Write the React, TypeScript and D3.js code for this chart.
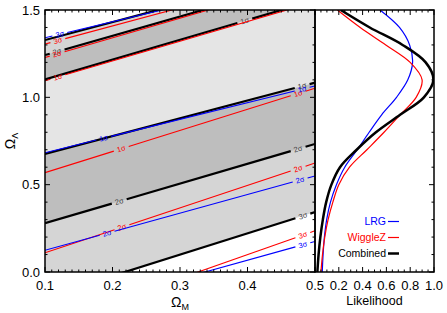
import * as d3 from 'd3';

// Ω_Λ values of each contour at Ω_M = 0.1 and Ω_M = 0.5 (straight, degenerate contours)
const omegaMEnds = [0.1, 0.5];
const sigmaNames = ['1σ', '2σ', '3σ'];

const combinedLower = [[0.676, 1.084], [0.279, 0.733], [-0.144, 0.343]];
const combinedUpper = [[1.103, 1.556], [1.242, 1.683], [1.328, 1.739]];
const wigglezLower = [[0.569, 1.052], [0.11, 0.624], [-0.309, 0.236]];
const wigglezUpper = [[1.095, 1.547], [1.228, 1.678], [1.305, 1.72]];
const lrgLower = [[0.683, 1.065], [0.124, 0.55], [-0.255, 0.175]];
const lrgUpper = [[1.341, 1.709]];
const lrgUpperNames = ['3σ'];

// where the inline contour labels sit, in Ω_M
const combinedLowerLabelAt = [[0.481], [0.21, 0.475], [0.482]];
const combinedUpperLabelAt = [[0.396], [0.118], []];
const wigglezLowerLabelAt = [[0.213, 0.475], [0.214, 0.475], [0.482]];
const wigglezUpperLabelAt = [[0.119], [0.118], [0.119]];
const lrgLowerLabelAt = [[0.187, 0.481], [0.192, 0.478], [0.482]];
const lrgUpperLabelAt = [[0.122]];

// marginal likelihood vs Ω_Λ
const omegaLGrid = [0, 0.1, 0.2, 0.3, 0.4, 0.5, 0.6, 0.7, 0.8, 0.9, 1.0, 1.1, 1.2, 1.3, 1.4, 1.5];
const likeLRG = [0.061, 0.068, 0.079, 0.098, 0.13, 0.18, 0.25, 0.355, 0.455, 0.56, 0.685, 0.78, 0.82, 0.795, 0.71, 0.546];
const likeWiggleZ = [0.05, 0.063, 0.082, 0.11, 0.15, 0.2, 0.29, 0.436, 0.58, 0.715, 0.85, 0.9, 0.8, 0.595, 0.38, 0.188];
const likeCombined = [0.02, 0.03, 0.045, 0.066, 0.094, 0.138, 0.21, 0.35, 0.512, 0.715, 0.915, 0.995, 0.93, 0.736, 0.46, 0.216];

const xTickValues = [0.1, 0.2, 0.3, 0.4, 0.5];
const yTickValues = [0, 0.5, 1.0, 1.5];
const likeTickValues = [0.2, 0.4, 0.6, 0.8, 1.0];
const legendNames = ['LRG', 'WiggleZ', 'Combined'];

const FONT = '"Liberation Sans", Arial, Helvetica, sans-serif';
const BLUE = '#0000ff';
const RED = '#ff0000';
const BANDS = ['#e5e5e5', '#bebebe', '#d5d5d5'];

const PANEL = { left: 45, right: 315, top: 10, bottom: 272 };
const SIDE = { left: 315, right: 434 };

export default function App() {
  const x = d3.scaleLinear().domain([0.1, 0.5]).range([PANEL.left, PANEL.right]);
  const y = d3.scaleLinear().domain([0, 1.5]).range([PANEL.bottom, PANEL.top]);
  const lx = d3.scaleLinear().domain([0, 1]).range([SIDE.left, SIDE.right]);

  const bandArea = d3
    .area<number>()
    .x((m) => x(m));

  // a contour line, broken around its labels
  const contour = (
    ends: number[],
    labelAt: number[],
    name: string,
    color: string,
    width: number,
    labelColor: string,
    key: string,
  ) => {
    const at = (m: number) => ends[0] + ((ends[1] - ends[0]) * (m - omegaMEnds[0])) / (omegaMEnds[1] - omegaMEnds[0]);
    const gap = 0.011;
    const cuts = [omegaMEnds[0]];
    labelAt.forEach((m) => cuts.push(m - gap, m + gap));
    cuts.push(omegaMEnds[1]);
    const segs = [];
    for (let i = 0; i < cuts.length; i += 2) {
      segs.push(
        <line
          key={`${key}-s${i}`}
          x1={x(cuts[i])}
          y1={y(at(cuts[i]))}
          x2={x(cuts[i + 1])}
          y2={y(at(cuts[i + 1]))}
          stroke={color}
          strokeWidth={width}
        />,
      );
    }
    const angle =
      (Math.atan2(y(ends[1]) - y(ends[0]), x(omegaMEnds[1]) - x(omegaMEnds[0])) * 180) / Math.PI;
    labelAt.forEach((m, i) => {
      segs.push(
        <text
          key={`${key}-t${i}`}
          transform={`translate(${x(m)},${y(at(m))}) rotate(${angle})`}
          dy="2.5"
          textAnchor="middle"
          fontSize="7.5"
          fontFamily={FONT}
          fill={labelColor}
        >
          {name}
        </text>,
      );
    });
    return <g key={key}>{segs}</g>;
  };

  const likeLine = (vals: number[]) =>
    d3
      .line<number>()
      .x((v) => lx(v))
      .y((_, i) => y(omegaLGrid[i]))
      .curve(d3.curveCatmullRom)(vals) || '';

  const xMinor = x.ticks(40);
  const yMinor = y.ticks(15);
  const yMajor = y.ticks(3);
  const lMinor = lx.ticks(20);
  const lMajor = lx.ticks(5);

  const tick = (x1: number, y1: number, x2: number, y2: number, k: string) => (
    <line key={k} x1={x1} y1={y1} x2={x2} y2={y2} stroke="#000" strokeWidth={1} />
  );

  const MAJ = 5;
  const MIN = 2.5;

  return (
    <svg
      width={447}
      height={313}
      style={{ position: 'absolute', left: 0, top: 0, background: '#fff' }}
    >
      <defs>
        <clipPath id="main-clip">
          <rect x={PANEL.left} y={PANEL.top} width={PANEL.right - PANEL.left} height={PANEL.bottom - PANEL.top} />
        </clipPath>
        <clipPath id="side-clip">
          <rect x={SIDE.left} y={PANEL.top} width={SIDE.right - SIDE.left} height={PANEL.bottom - PANEL.top} />
        </clipPath>
      </defs>

      {/* filled combined confidence bands */}
      <g clipPath="url(#main-clip)">
        {[2, 1, 0].map((k) => (
          <path
            key={`band${k}`}
            d={
              bandArea
                .y0((_, i) => y(combinedLower[k][i]))
                .y1((_, i) => y(combinedUpper[k][i]))(omegaMEnds) || ''
            }
            fill={BANDS[k]}
          />
        ))}

        {combinedLower.map((e, k) =>
          contour(e, combinedLowerLabelAt[k], sigmaNames[k], '#000', 2.2, '#444', `cl${k}`),
        )}
        {combinedUpper.map((e, k) =>
          contour(e, combinedUpperLabelAt[k], sigmaNames[k], '#000', 2.2, '#444', `cu${k}`),
        )}
        {wigglezLower.map((e, k) =>
          contour(e, wigglezLowerLabelAt[k], sigmaNames[k], RED, 1.1, RED, `wl${k}`),
        )}
        {wigglezUpper.map((e, k) =>
          contour(e, wigglezUpperLabelAt[k], sigmaNames[k], RED, 1.1, RED, `wu${k}`),
        )}
        {lrgLower.map((e, k) =>
          contour(e, lrgLowerLabelAt[k], sigmaNames[k], BLUE, 1.1, BLUE, `ll${k}`),
        )}
        {lrgUpper.map((e, k) =>
          contour(e, lrgUpperLabelAt[k], lrgUpperNames[k], BLUE, 1.1, BLUE, `lu${k}`),
        )}
      </g>

      {/* likelihood panel */}
      <g clipPath="url(#side-clip)" fill="none">
        <path d={likeLine(likeLRG)} stroke={BLUE} strokeWidth={1.2} />
        <path d={likeLine(likeWiggleZ)} stroke={RED} strokeWidth={1.2} />
        <path d={likeLine(likeCombined)} stroke="#000" strokeWidth={2.5} />
      </g>

      {/* ticks, main panel */}
      <g>
        {xMinor.map((v, i) => {
          const len = xTickValues.some((t) => Math.abs(t - v) < 1e-6) ? MAJ : MIN;
          return [
            tick(x(v), PANEL.bottom, x(v), PANEL.bottom - len, `xb${i}`),
            tick(x(v), PANEL.top, x(v), PANEL.top + len, `xt${i}`),
          ];
        })}
        {yMinor.map((v, i) => {
          const len = yMajor.some((t) => Math.abs(t - v) < 1e-6) ? MAJ : MIN;
          return [
            tick(PANEL.left, y(v), PANEL.left + len, y(v), `yl${i}`),
            tick(PANEL.right, y(v), PANEL.right - len, y(v), `yr${i}`),
            tick(SIDE.right, y(v), SIDE.right - len, y(v), `ys${i}`),
          ];
        })}
        {lMinor.map((v, i) => {
          const len = lMajor.some((t) => Math.abs(t - v) < 1e-6) ? MAJ : MIN;
          return [
            tick(lx(v), PANEL.bottom, lx(v), PANEL.bottom - len, `lb${i}`),
            tick(lx(v), PANEL.top, lx(v), PANEL.top + len, `lt${i}`),
          ];
        })}
      </g>

      {/* frames */}
      <rect
        x={PANEL.left}
        y={PANEL.top}
        width={PANEL.right - PANEL.left}
        height={PANEL.bottom - PANEL.top}
        fill="none"
        stroke="#000"
        strokeWidth={1.5}
      />
      <rect
        x={SIDE.left}
        y={PANEL.top}
        width={SIDE.right - SIDE.left}
        height={PANEL.bottom - PANEL.top}
        fill="none"
        stroke="#000"
        strokeWidth={1.5}
      />

      {/* tick labels */}
      <g fontFamily={FONT} fontSize="13" fill="#000">
        {xTickValues.map((v) => (
          <text key={`xl${v}`} x={x(v)} y={289.5} textAnchor="middle">
            {v.toFixed(1)}
          </text>
        ))}
        {yTickValues.map((v) => (
          <text key={`yl${v}`} x={40} y={y(v) + 4.6} textAnchor="end">
            {v.toFixed(1)}
          </text>
        ))}
        {likeTickValues.map((v) => (
          <text key={`ll${v}`} x={lx(v)} y={289.5} textAnchor="middle">
            {v.toFixed(1)}
          </text>
        ))}
      </g>

      {/* axis titles */}
      <text x={(PANEL.left + PANEL.right) / 2} y={307} textAnchor="middle" fontFamily={FONT} fontSize="14">
        Ω<tspan fontSize="9" dy="3">M</tspan>
      </text>
      <text
        transform={`translate(15,${(PANEL.top + PANEL.bottom) / 2}) rotate(-90)`}
        textAnchor="middle"
        fontFamily={FONT}
        fontSize="14"
      >
        Ω<tspan fontSize="9" dy="3">Λ</tspan>
      </text>
      <text
        x={(SIDE.left + SIDE.right) / 2}
        y={305}
        textAnchor="middle"
        fontFamily={FONT}
        fontSize="12.5"
      >
        Likelihood
      </text>

      {/* legend */}
      <g fontFamily={FONT} fontSize="10.5">
        {legendNames.map((name, i) => {
          const color = [BLUE, RED, '#000'][i];
          const yy = 225 + i * 16;
          return (
            <g key={name}>
              <text x={386} y={yy} textAnchor="end" fill={color}>
                {name}
              </text>
              <line
                x1={388}
                x2={399}
                y1={yy - 3.5}
                y2={yy - 3.5}
                stroke={color}
                strokeWidth={i === 2 ? 2.5 : 1.2}
              />
            </g>
          );
        })}
      </g>
    </svg>
  );
}
